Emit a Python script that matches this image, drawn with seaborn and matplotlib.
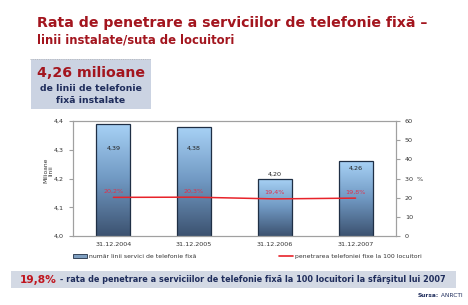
import numpy as np
import pandas as pd
import matplotlib
matplotlib.use("Agg")
import matplotlib.pyplot as plt
import seaborn as sns
from matplotlib.patches import Rectangle, Patch
from matplotlib.lines import Line2D
from matplotlib.text import Annotation
from matplotlib.ticker import FuncFormatter, FixedLocator

# ---- data ----
categories = ["31.12.2004", "31.12.2005", "31.12.2006", "31.12.2007"]
lines_mil = [4.39, 4.38, 4.20, 4.26]
penetration = [20.2, 20.3, 19.4, 19.8]
bar_labels = ["4,39", "4,38", "4,20", "4,26"]
pct_labels = ["20,2%", "20,3%", "19,4%", "19,8%"]
left_ticks = [4.0, 4.1, 4.2, 4.3, 4.4]
right_ticks = [0, 10, 20, 30, 40, 50, 60]
legend_bar = "număr linii servici de telefonie fixă"
legend_line = "penetrarea telefoniei fixe la 100 locuitori"

df = pd.DataFrame({"cat": categories, "lines": lines_mil, "pen": penetration})

sns.set_style("white")
plt.rcParams["font.family"] = ["DejaVu Sans"]

RED = "#a3151e"
NAVY = "#1f2d5c"
GRID = "#a0a0a0"

fig = plt.figure(figsize=(4.68, 3.05), dpi=100)
ax = fig.add_axes([0.156, 0.226, 0.690, 0.377])

sns.barplot(data=df, x="cat", y="lines", ax=ax, width=0.42,
            color="#7f9fc0", edgecolor="#1f2f45", linewidth=0.9, zorder=2)

# gradient fill inside bars
cmap = matplotlib.colors.LinearSegmentedColormap.from_list(
    "g", ["#3c5270", "#7098c2", "#a8d2f6"])
for p in ax.patches:
    x0, w, h = p.get_x(), p.get_width(), p.get_height()
    im = ax.imshow(np.linspace(0, 1, 256).reshape(-1, 1),
                   cmap=cmap, aspect="auto", origin="lower",
                   extent=(x0, x0 + w, 4.0, h), zorder=2.1)
    im.set_clip_path(p)
    p.set_facecolor("none")
    p.set_zorder(2.2)
ax.set_xlim(-0.5, 3.5)
ax.set_ylim(4.0, 4.4)

# bar value labels
label_y = [4.305, 4.305, 4.215, 4.235]
for i, (lab, ly) in enumerate(zip(bar_labels, label_y)):
    ax.text(i, ly, lab, ha="center", va="center", fontsize=4.6, color="#222222", zorder=5)

ax.yaxis.set_major_locator(FixedLocator(left_ticks))
ax.yaxis.set_major_formatter(FuncFormatter(lambda v, p: f"{v:.1f}".replace(".", ",")))
ax.set_xlabel("")
ax.set_ylabel("")
ax.set_xticks([0, 1, 2, 3])
ax.set_xticklabels(categories)
ax.set_xticks([0.5, 1.5, 2.5], minor=True)
ax.tick_params(axis="x", which="major", length=0, labelsize=4.6, pad=4, colors="#333333")
ax.tick_params(axis="x", which="minor", length=3, color=GRID, direction="out")
ax.tick_params(axis="y", length=3, color=GRID, labelsize=4.6, colors="#333333", direction="out", left=True)
for s in ax.spines.values():
    s.set_color(GRID)
    s.set_linewidth(0.8)

# right axis with line
ax2 = ax.twinx()
sns.lineplot(data=df, x="cat", y="pen", ax=ax2, color="#e8232a", linewidth=1.1,
             sort=False, zorder=4)
ax2.set_ylim(0, 60)
ax2.set_xlim(-0.5, 3.5)
ax2.yaxis.set_major_locator(FixedLocator(right_ticks))
ax2.yaxis.set_major_formatter(FuncFormatter(lambda v, p: "30  %" if int(v) == 30 else f"{int(v)}"))
ax2.tick_params(axis="y", length=3, color=GRID, labelsize=4.6, colors="#333333", direction="out", right=True)
ax2.set_ylabel("")
ax2.set_xlabel("")
for s in ax2.spines.values():
    s.set_color(GRID)
    s.set_linewidth(0.8)
for i, lab in enumerate(pct_labels):
    ax2.text(i, penetration[i] + 3.3, lab, ha="center", va="center", fontsize=4.6, color="#e0304a")

fig.text(0.103, 0.44, "Milioane\nlinii", rotation=90, ha="center", va="center",
         fontsize=4.3, color="#333333", linespacing=1.1)

# legends
h1 = Patch(facecolor="#7f9fc0", edgecolor="#1f2f45", linewidth=0.6)
h2 = Line2D([], [], color="#e8232a", linewidth=1.2)
leg1 = fig.legend([h1], [legend_bar], loc="center left", bbox_to_anchor=(0.145, 0.16),
                  frameon=False, fontsize=4.4, handlelength=2.2, handleheight=0.7, handletextpad=0.4)
leg2 = fig.legend([h2], [legend_line], loc="center left", bbox_to_anchor=(0.585, 0.16),
                  frameon=False, fontsize=4.4, handlelength=2.2, handletextpad=0.4)
for t in leg1.get_texts() + leg2.get_texts():
    t.set_color("#333333")

# titles
fig.text(0.079, 0.925, "Rata de penetrare a serviciilor de telefonie fixă –",
         fontsize=10.2, fontweight="bold", color=RED, ha="left", va="center")
fig.text(0.079, 0.869, "linii instalate/suta de locuitori",
         fontsize=8.4, fontweight="bold", color=RED, ha="left", va="center")
fig.add_artist(Line2D([30 / 468, 150 / 468], [1 - 59 / 305] * 2, transform=fig.transFigure,
                      color="#b0b0b0", linestyle=":", linewidth=0.6))

# info box
fig.add_artist(Rectangle((0.066, 0.643), 0.256, 0.164, transform=fig.transFigure,
                         facecolor="#cbd3e2", edgecolor="none", zorder=1))
fig.text(0.194, 0.762, "4,26 milioane", fontsize=10.2, fontweight="bold", color=RED,
         ha="center", va="center", zorder=3)
fig.text(0.194, 0.711, "de linii de telefonie", fontsize=6.7, fontweight="bold", color=NAVY,
         ha="center", va="center", zorder=3)
fig.text(0.194, 0.671, "fixă instalate", fontsize=6.7, fontweight="bold", color=NAVY,
         ha="center", va="center", zorder=3)

# bottom banner
fig.add_artist(Rectangle((0.0235, 0.056), 0.951, 0.054, transform=fig.transFigure,
                         facecolor="#d3d9e4", edgecolor="none", zorder=1))
t1 = fig.text(0.043, 0.083, "19,8%", fontsize=7.7, fontweight="bold", color="#c0151e",
              ha="left", va="center", zorder=3)
fig.add_artist(Annotation(" - rata de penetrare a serviciilor de telefonie fixă la 100 locuitori la sfârşitul lui 2007",
                          xy=(1.0, 0.5), xycoords=t1, ha="left", va="center",
                          fontsize=5.85, fontweight="bold", color=NAVY, annotation_clip=False,
                          zorder=3))

t3 = fig.text(0.893, 0.030, "Sursa:", fontsize=4.2, fontweight="bold", color=NAVY,
              ha="left", va="center", zorder=3)
fig.add_artist(Annotation(" ANRCTI", xy=(1.0, 0.5), xycoords=t3, ha="left", va="center",
                          fontsize=4.2, color=NAVY, annotation_clip=False, zorder=3))

fig.savefig("out.png", dpi=100)
